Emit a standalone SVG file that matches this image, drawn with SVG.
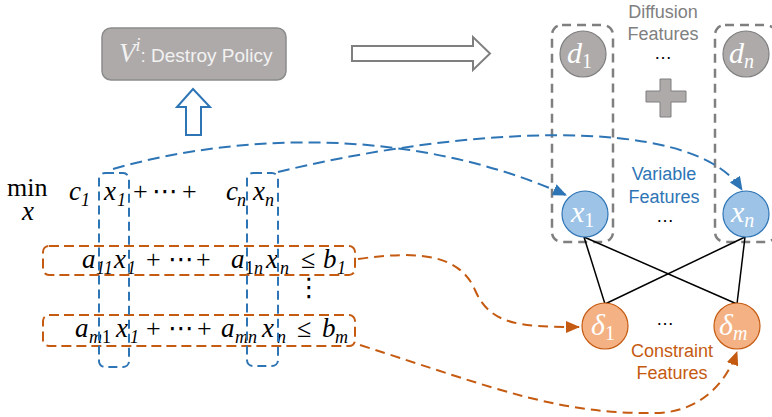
<svg xmlns="http://www.w3.org/2000/svg" width="772" height="417" viewBox="0 0 772 417">
<defs>
<style>
.m{font-family:"Liberation Serif","DejaVu Serif",serif;font-style:italic;font-size:27px;fill:#000}
.u{font-family:"Liberation Serif","DejaVu Sans",serif;font-size:26px;fill:#000}
.s{font-size:18px}
.cl{font-family:"Liberation Serif","DejaVu Serif",serif;font-style:italic;font-size:30px;fill:#fff}
.cs{font-size:20px}
.lbl{font-family:"Liberation Sans",Arial,sans-serif;font-size:18px;text-anchor:middle}
.gcol{fill:none;stroke:#7f7f7f;stroke-width:2.5;stroke-dasharray:9 6}
.bbox{fill:none;stroke:#2e75b6;stroke-width:2;stroke-dasharray:9 5}
.obox{fill:none;stroke:#c55a11;stroke-width:2;stroke-dasharray:10 5}
.bcurve{fill:none;stroke:#2e75b6;stroke-width:2;stroke-dasharray:12 6}
.ocurve{fill:none;stroke:#c55a11;stroke-width:2;stroke-dasharray:10 6}
.edge{stroke:#000;stroke-width:1.5}
</style>
<marker id="ab" markerUnits="userSpaceOnUse" markerWidth="14" markerHeight="12" refX="13" refY="6" orient="auto"><path d="M0,0 L14,6 L0,12 z" fill="#2e75b6"/></marker>
<marker id="ao" markerUnits="userSpaceOnUse" markerWidth="14" markerHeight="12" refX="13" refY="6" orient="auto"><path d="M0,0 L14,6 L0,12 z" fill="#c55a11"/></marker>
</defs>
<rect width="772" height="417" fill="#fff"/>

<g id="policy">
<rect x="102" y="28" width="184" height="52" rx="9" fill="#aeaaaa" stroke="#8c8c8c" stroke-width="1.5"/>
<text y="62" fill="#f2f2f2"><tspan x="119" font-family="Liberation Serif,serif" font-style="italic" font-size="27">V</tspan><tspan font-family="Liberation Serif,serif" font-style="italic" font-size="18" dy="-11">i</tspan><tspan font-family="Liberation Sans,Arial,sans-serif" font-size="19" dy="11">: Destroy Policy</tspan></text>
</g>

<g id="arrow-up">
<polygon points="193,89 210,107 201,107 201,135 186,135 186,107 177,107" fill="#fff" stroke="#2e75b6" stroke-width="2"/>
</g>
<g id="arrow-right">
<polygon points="352,46 473,46 473,37 490,53.5 473,70 473,61 352,61" fill="#fff" stroke="#7f7f7f" stroke-width="2"/>
</g>

<g id="problem">
<text class="u" x="7" y="196" font-size="25">min</text>
<text class="m" x="22" y="220" font-size="18">x</text>
<text class="m" x="69" y="200">c</text><text class="m s" x="81" y="206" font-style="normal">1</text>
<text class="m" x="104" y="200">x</text><text class="m s" x="117" y="206" font-style="normal">1</text>
<text class="u" x="133" y="200">+</text><text class="u" x="152" y="200">⋯</text><text class="u" x="182" y="200">+</text>
<text class="m" x="226" y="200">c</text><text class="m s" x="237" y="206">n</text>
<text class="m" x="253" y="200">x</text><text class="m s" x="265" y="206">n</text>

<text class="m" x="82" y="268">a</text><text class="m s" x="96" y="274" font-style="normal">11</text>
<text class="m" x="114" y="268">x</text><text class="m s" x="127" y="274" font-style="normal">1</text>
<text class="u" x="146" y="268">+</text><text class="u" x="168" y="268">⋯</text><text class="u" x="196" y="268">+</text>
<text class="m" x="231" y="268">a</text><text class="m s" x="245" y="274"><tspan font-style="normal">1</tspan>n</text>
<text class="m" x="266" y="268">x</text><text class="m s" x="280" y="274">n</text>
<text class="u" x="301" y="268">≤</text>
<text class="m" x="323" y="268">b</text><text class="m s" x="337" y="274" font-style="normal">1</text>

<text class="u" x="296" y="296" font-size="18">⋮</text>

<text class="m" x="75" y="337">a</text><text class="m s" x="89" y="343">m<tspan font-style="normal">1</tspan></text>
<text class="m" x="116" y="337">x</text><text class="m s" x="130" y="343" font-style="normal">1</text>
<text class="u" x="146" y="337">+</text><text class="u" x="168" y="337">⋯</text><text class="u" x="197" y="337">+</text>
<text class="m" x="221" y="337">a</text><text class="m s" x="235" y="343">mn</text>
<text class="m" x="262" y="337">x</text><text class="m s" x="277" y="343">n</text>
<text class="u" x="297" y="337">≤</text>
<text class="m" x="322" y="337">b</text><text class="m s" x="335" y="343">m</text>

<rect class="obox" x="43" y="246" width="312" height="29" rx="6"/>
<rect class="obox" x="43" y="315" width="312" height="31" rx="6"/>
<rect class="bbox" x="99" y="173" width="30" height="194" rx="6"/>
<rect class="bbox" x="247" y="173" width="31" height="193" rx="6"/>
</g>

<g id="diffusion">
<rect class="gcol" x="552" y="25" width="61" height="217" rx="10"/>
<rect class="gcol" x="715" y="25" width="61" height="217" rx="10"/>
<text class="lbl" x="663" y="18" fill="#808080">Diffusion</text>
<text class="lbl" x="663" y="40" fill="#808080">Features</text>
<text class="lbl" x="663" y="59" fill="#000">…</text>
<path d="M660,79 H671 V91 H686 V102 H671 V117 H660 V102 H646 V91 H660 Z" fill="#aeaaaa" stroke="#7f7f7f" stroke-width="1"/>
</g>
<g id="d1"><circle cx="583" cy="54" r="23" fill="#aeaaaa" stroke="#7f7f7f" stroke-width="1.2"/><text class="cl" x="567" y="63">d<tspan class="cs" font-style="normal" dy="5">1</tspan></text></g>
<g id="dn"><circle cx="746" cy="54" r="23" fill="#aeaaaa" stroke="#7f7f7f" stroke-width="1.2"/><text class="cl" x="729" y="63">d<tspan class="cs" dy="5">n</tspan></text></g>

<g id="variable-label">
<text class="lbl" x="664" y="180" fill="#2e75b6">Variable</text>
<text class="lbl" x="664" y="203" fill="#2e75b6">Features</text>
<text class="lbl" x="665" y="222" fill="#000">…</text>
</g>
<g id="constraint-label">
<text class="lbl" x="672" y="357" fill="#c55a11">Constraint</text>
<text class="lbl" x="672" y="379" fill="#c55a11">Features</text>
<text class="lbl" x="665" y="325" fill="#000">…</text>
</g>

<g id="connectors">
<line class="edge" x1="584" y1="237" x2="605" y2="304"/>
<line class="edge" x1="584" y1="237" x2="737" y2="304"/>
<line class="edge" x1="745" y1="237" x2="605" y2="304"/>
<line class="edge" x1="745" y1="237" x2="737" y2="304"/>
<path class="bcurve" d="M113,169 C250,130 420,130 566,195" marker-end="url(#ab)"/>
<path class="bcurve" d="M278,172 C450,130 690,110 742,190" marker-end="url(#ab)"/>
<path class="ocurve" d="M358,259 C420,250 460,255 475,290 S520,327 579,327" marker-end="url(#ao)"/>
<path class="ocurve" d="M360,345 C500,390 560,415 660,413 C700,410 725,385 737,352" marker-end="url(#ao)"/>
</g>

<g id="x1"><circle cx="585" cy="214" r="23" fill="#9dc3e6" stroke="#2e75b6" stroke-width="1.2"/><text class="cl" x="571" y="222">x<tspan class="cs" font-style="normal" dy="5">1</tspan></text></g>
<g id="xn"><circle cx="746" cy="214" r="23" fill="#9dc3e6" stroke="#2e75b6" stroke-width="1.2"/><text class="cl" x="731" y="222">x<tspan class="cs" dy="5">n</tspan></text></g>
<g id="delta1"><circle cx="605" cy="326" r="23" fill="#f4b183" stroke="#c55a11" stroke-width="1.2"/><text class="cl" x="591" y="335">δ<tspan class="cs" font-style="normal" dy="5">1</tspan></text></g>
<g id="deltam"><circle cx="737" cy="326" r="23" fill="#f4b183" stroke="#c55a11" stroke-width="1.2"/><text class="cl" x="719" y="335">δ<tspan class="cs" dy="5">m</tspan></text></g>
</svg>
